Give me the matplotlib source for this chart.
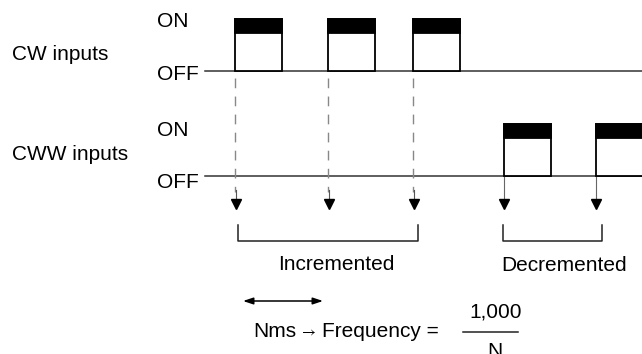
import matplotlib
matplotlib.use("Agg")
import matplotlib.pyplot as plt
from matplotlib.patches import Rectangle

plt.rcParams['font.family'] = ['Liberation Sans', 'DejaVu Sans']
plt.rcParams['mathtext.fontset'] = 'stixsans'

# Timing data (horizontal positions in diagram units)
cw_pulses = [235, 328, 413]      # CW rising edges
cww_pulses = [504, 596]          # CWW rising edges
pulse_width = 47
line_start = 205
line_end = 642

# Levels (vertical positions in diagram units, top is 0)
cw_off, cw_on = 71, 19
cww_off, cww_on = 176, 124
band = 14
arrow_y = 204

incremented_span = [238, 418]
decremented_span = [503, 602]

fig = plt.figure(figsize=(6.42, 3.54), dpi=100)
ax = fig.add_axes([0, 0, 1, 1])
ax.set_xlim(0, 642)
ax.set_ylim(354, 0)
ax.axis('off')

fs = 15

def draw_signal(rises, off, on):
    ax.plot([line_start, line_end], [off, off], color='#333333', lw=1.1)
    for x in rises:
        ax.add_patch(Rectangle((x, on), pulse_width, off - on, facecolor='white',
                               edgecolor='black', lw=1.3, zorder=3))
        ax.add_patch(Rectangle((x, on), pulse_width, band, facecolor='black',
                               edgecolor='black', lw=1.3, zorder=4))

draw_signal(cw_pulses, cw_off, cw_on)
draw_signal(cww_pulses, cww_off, cww_on)

# labels
ax.text(12, 60, 'CW inputs', fontsize=fs, va='baseline')
ax.text(12, 160, 'CWW inputs', fontsize=fs, va='baseline')
for y_on, y_off in [(27, 80), (136, 188)]:
    ax.text(157, y_on, 'ON', fontsize=fs, va='baseline')
    ax.text(157, y_off, 'OFF', fontsize=fs, va='baseline')

# count arrows
for x in cw_pulses:
    ax.plot([x, x], [cw_off + 7, 192], color='#888888', lw=1, dashes=(7, 6))
    ax.plot([x + 1, x + 1], [190, arrow_y], color='#555555', lw=0.8)
    ax.plot(x + 1, arrow_y, marker='v', color='black', markersize=7.5)
for x in cww_pulses:
    ax.plot([x, x], [cww_off, arrow_y], color='#666666', lw=0.8)
    ax.plot(x, arrow_y, marker='v', color='black', markersize=7.5)

# brackets
for (x0, x1), label, y_txt in [(incremented_span, 'Incremented', 270),
                               (decremented_span, 'Decremented', 271)]:
    ax.plot([x0, x0, x1, x1], [225, 241, 241, 225], color='#222222', lw=1.1)
    ax.text((x0 + x1) / 2 + (8 if label == 'Incremented' else 12), y_txt, label,
            fontsize=fs, ha='center', va='baseline')

# period arrow
ax.annotate('', xy=(243, 301), xytext=(323, 301),
            arrowprops=dict(arrowstyle='<|-|>,head_length=0.6,head_width=0.2',
                            color='black', lw=1.1, shrinkA=0, shrinkB=0))

# formula
ax.text(253, 337, 'Nms', fontsize=fs, va='baseline')
ax.text(308, 336, r'$\rightarrow$', fontsize=11, ha='center', va='baseline')
ax.text(322, 337, 'Frequency =', fontsize=fs, va='baseline')
ax.text(496, 318, '1,000', fontsize=fs, ha='center', va='baseline')
ax.plot([463, 518], [332, 332], color='#222222', lw=1.1)
ax.text(495, 357, 'N', fontsize=fs, ha='center', va='baseline')

fig.savefig('out.png', dpi=100)
